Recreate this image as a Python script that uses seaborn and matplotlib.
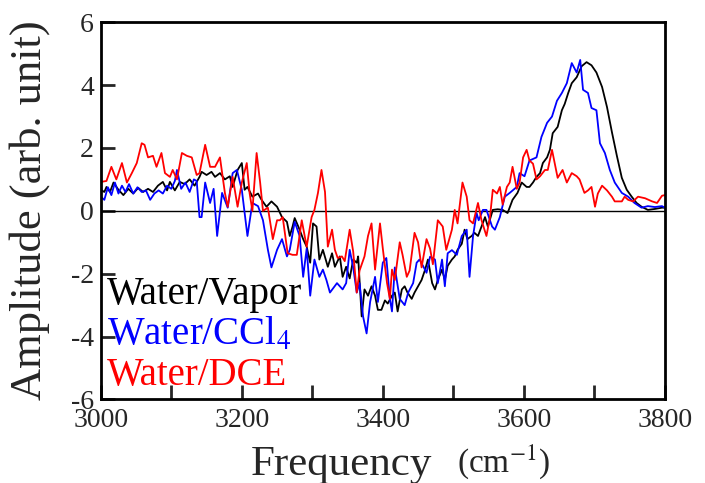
import matplotlib
matplotlib.use('Agg')
import matplotlib.pyplot as plt
from matplotlib.ticker import MultipleLocator
import seaborn as sns
import pandas as pd

# values (freq in cm-1, amplitude in arb. unit)
vapor_freq = [3000, 3005, 3008, 3013, 3018, 3025, 3032, 3039, 3046, 3053, 3060, 3067, 3074, 3081,
              3088, 3094, 3098, 3105, 3112, 3119, 3126, 3133, 3140, 3143, 3150, 3157, 3162, 3169,
              3176, 3183, 3187, 3194, 3200, 3204, 3208, 3215, 3223, 3228, 3235, 3242, 3250, 3257,
              3264, 3268, 3272, 3275, 3282, 3287, 3292, 3297, 3301, 3306, 3310, 3315, 3322, 3328,
              3332, 3339, 3343, 3348, 3353, 3358, 3363, 3365, 3370, 3374, 3379, 3384, 3389, 3393,
              3398, 3403, 3407, 3413, 3417, 3421, 3427, 3431, 3435, 3441, 3445, 3450, 3455, 3460,
              3464, 3470, 3474, 3478, 3484, 3488, 3492, 3498, 3502, 3506, 3512, 3516, 3520, 3526,
              3530, 3535, 3540, 3545, 3549, 3556, 3563, 3570, 3577, 3584, 3591, 3597, 3604, 3608,
              3613, 3618, 3623, 3627, 3633, 3637, 3641, 3648, 3654, 3658, 3663, 3668, 3675, 3682,
              3689, 3696, 3703, 3711, 3718, 3725, 3732, 3739, 3746, 3753, 3760, 3767, 3776, 3786,
              3796, 3800]
vapor_amp = [0.67, 0.6, 0.76, 0.6, 0.9, 0.67, 0.5, 0.7, 0.55, 0.73, 0.6, 0.7, 0.6, 0.8,
             0.92, 0.65, 0.92, 0.65, 0.92, 0.85, 1.0, 0.8, 1.08, 1.24, 1.14, 1.24, 1.08, 1.2,
             1.0, 1.1, 0.76, 1.3, 1.52, 0.67, 0.76, 0.45, 0.55, 0.35, 0.13, 0.3, 0.13, -0.2,
             -0.35, -0.8, -0.5, -0.23, -0.6, -0.9, -1.14, -1.65, -0.4, -0.5, -1.55, -1.24, -1.78, -1.35,
             -1.78, -1.45, -2.1, -1.78, -2.15, -1.55, -1.65, -1.45, -3.36, -2.5, -2.7, -2.4, -2.7, -3.15,
             -3.15, -2.85, -2.95, -2.7, -2.6, -3.2, -2.5, -2.4, -2.6, -2.8, -2.6, -2.4, -2.2, -1.87,
             -1.55, -2.3, -2.5, -2.2, -1.87, -2.2, -1.75, -1.55, -1.45, -1.24, -1.05, -0.6, -0.9, -0.8,
             -0.7, -0.8, -0.5, -0.2, -0.5, 0.03, 0.05, 0.03, -0.07, 0.35, 0.57, 0.9, 0.76, 0.76,
             0.9, 1.08, 1.2, 1.52, 1.7, 1.94, 2.47, 2.67, 3.2, 3.4, 3.75, 4.06, 4.25, 4.6,
             4.73, 4.63, 4.4, 3.94, 3.3, 2.5, 1.75, 1.05, 0.67, 0.45, 0.25, 0.13, 0.03, 0.06,
             0.1, 0.1]

ccl4_freq = [3000, 3005, 3010, 3015, 3020, 3025, 3030, 3035, 3040, 3046, 3052, 3058, 3064, 3070,
             3076, 3082, 3088, 3094, 3100, 3105, 3108, 3114, 3120, 3126, 3132, 3136, 3140, 3143,
             3148, 3155, 3160, 3165, 3172, 3180, 3187, 3193, 3200, 3208, 3215, 3223, 3230, 3237,
             3242, 3250, 3257, 3264, 3268, 3275, 3282, 3287, 3292, 3297, 3303, 3310, 3315, 3320,
             3325, 3335, 3343, 3348, 3353, 3358, 3363, 3367, 3372, 3377, 3382, 3389, 3393, 3400,
             3405, 3410, 3413, 3417, 3424, 3431, 3436, 3443, 3448, 3452, 3457, 3462, 3467, 3474,
             3478, 3484, 3488, 3492, 3498, 3505, 3512, 3519, 3523, 3528, 3533, 3536, 3542, 3547,
             3555, 3559, 3566, 3573, 3580, 3590, 3594, 3601, 3608, 3618, 3625, 3633, 3640, 3647,
             3654, 3661, 3668, 3675, 3680, 3684, 3691, 3696, 3703, 3708, 3715, 3722, 3729, 3739,
             3748, 3757, 3767, 3776, 3786, 3796, 3800]
ccl4_amp = [0.45, 0.35, 0.75, 0.5, 0.9, 0.55, 0.8, 0.6, 0.85, 0.55, 0.75, 0.6, 0.65, 0.35,
            0.55, 0.65, 0.55, 0.8, 0.7, 0.95, 1.3, 0.7, 0.9, 0.6, 1.0, 0.95, -0.2, -0.2,
            0.9, 0.25, 0.7, -0.8, 0.57, 0.1, 1.2, 1.3, 0.67, -0.8, 0.25, 0.15, -0.3, -1.24,
            -1.8, -1.24, -0.9, -1.45, -1.24, -0.35, -0.8, -2.1, -1.2, -2.7, -1.55, -2.1, -1.87, -2.2,
            -2.6, -2.3, -2.5, -2.3, -1.24, -1.8, -2.6, -2.3, -3.36, -3.9, -2.9, -2.1, -2.9, -1.65,
            -1.5, -2.8, -3.2, -1.8, -2.8, -3.0, -2.6, -2.3, -1.65, -1.55, -1.75, -1.97, -1.46, -1.55,
            -2.3, -1.55, -2.4, -1.35, -1.25, -1.4, -0.8, -0.6, -2.1, -0.8, -0.07, -0.3, 0.03, 0.03,
            -0.5, -0.6, -0.2, 0.45, 0.57, 0.76, 1.2, 1.1, 1.6, 1.7, 2.35, 2.8, 3.0, 3.5,
            3.75, 4.06, 4.7, 4.4, 4.8, 3.85, 3.75, 3.27, 3.2, 2.15, 1.84, 1.3, 0.9, 0.57,
            0.45, 0.25, 0.1, 0.15, 0.12, 0.15, 0.1]

dce_freq = [3000, 3008, 3015, 3022, 3030, 3037, 3044, 3051, 3058, 3062, 3067, 3074, 3079, 3086,
            3091, 3098, 3102, 3108, 3115, 3122, 3129, 3136, 3140, 3148, 3155, 3162, 3169, 3176,
            3180, 3187, 3194, 3200, 3207, 3211, 3215, 3221, 3226, 3230, 3237, 3244, 3250, 3254,
            3258, 3265, 3272, 3278, 3285, 3292, 3299, 3303, 3308, 3313, 3318, 3322, 3328, 3332,
            3336, 3342, 3346, 3353, 3358, 3363, 3367, 3374, 3379, 3384, 3389, 3396, 3400, 3406,
            3410, 3413, 3417, 3424, 3428, 3434, 3438, 3445, 3450, 3455, 3462, 3467, 3471, 3478,
            3485, 3490, 3498, 3502, 3506, 3513, 3519, 3523, 3528, 3535, 3540, 3547, 3552, 3556,
            3562, 3566, 3570, 3576, 3580, 3584, 3590, 3594, 3599, 3604, 3608, 3613, 3618, 3623,
            3630, 3634, 3640, 3644, 3648, 3655, 3661, 3668, 3675, 3679, 3686, 3691, 3696, 3701,
            3705, 3711, 3718, 3725, 3729, 3739, 3743, 3748, 3755, 3762, 3772, 3782, 3789, 3796,
            3800]
dce_amp = [0.92, 0.95, 1.4, 1.0, 1.52, 0.9, 1.2, 1.52, 2.15, 2.1, 1.7, 1.75, 1.4, 1.84,
           1.2, 1.08, 1.3, 1.0, 1.84, 1.75, 1.7, 1.14, 1.2, 2.1, 1.4, 1.4, 1.7, 0.57,
           0.13, 1.08, 0.13, 0.9, 1.52, 0.57, 0.0, 1.84, 0.9, 0.0, 0.1, -0.9, -0.3, -0.3,
           -0.2, -1.35, -1.4, -1.4, -0.3, -1.14, -0.2, 0.03, 0.57, 1.3, 0.6, -1.14, -0.6, -1.24,
           -1.5, -1.45, -1.6, -0.6, -1.3, -2.6, -1.9, -1.45, -0.8, -0.4, -1.87, -0.4, -1.2, -2.3,
           -2.8, -1.87, -2.2, -1.0, -1.4, -2.1, -1.9, -0.7, -1.0, -1.8, -0.9, -1.2, -1.7, -0.3,
           -0.5, -1.24, -0.6, 0.03, -0.4, 0.9, 0.45, -0.3, -0.4, 0.25, -0.3, -0.8, -0.2, 0.67,
           0.55, 0.76, 0.2, 0.76, 0.9, 1.4, 0.7, 0.9, 1.7, 1.94, 1.6, 1.5, 1.0, 1.1,
           1.3, 1.3, 1.94, 1.5, 1.05, 1.3, 0.9, 1.2, 1.1, 1.0, 0.57, 0.65, 0.76, 0.13,
           0.55, 0.8, 0.65, 0.45, 0.3, 0.3, 0.45, 0.35, 0.3, 0.45, 0.4, 0.3, 0.25, 0.48,
           0.5]

labels = ['Water/Vapor', 'Water/CCl$_4$', 'Water/DCE']
colors = ['black', 'blue', 'red']

df = pd.concat([
    pd.DataFrame({'freq': vapor_freq, 'amp': vapor_amp, 'sample': labels[0]}),
    pd.DataFrame({'freq': ccl4_freq, 'amp': ccl4_amp, 'sample': labels[1]}),
    pd.DataFrame({'freq': dce_freq, 'amp': dce_amp, 'sample': labels[2]}),
])

sns.set_style('white')
plt.rcParams['font.family'] = ['Liberation Serif', 'DejaVu Serif']
plt.rcParams['mathtext.fontset'] = 'stix'
plt.rcParams['axes.unicode_minus'] = False

fig = plt.figure(figsize=(7.05, 4.83), dpi=100)
ax = fig.add_axes([0.143, 0.173, 0.800, 0.781])

ax.axhline(0, color='black', lw=1.0, zorder=1)
sns.lineplot(data=df, x='freq', y='amp', hue='sample', palette=colors,
             estimator=None, lw=1.3, ax=ax, zorder=2)

ax.set_xlim(3000, 3800)
ax.set_ylim(-6, 6)
ax.xaxis.set_major_locator(MultipleLocator(200))
ax.xaxis.set_minor_locator(MultipleLocator(100))
ax.yaxis.set_major_locator(MultipleLocator(2))
ax.tick_params(axis='both', which='both', direction='in', length=10, width=2,
               labelsize=20, top=False, right=False, bottom=True, left=True)
ax.tick_params(axis='x', pad=6)
ax.tick_params(axis='y', pad=5)
for sp in ax.spines.values():
    sp.set_linewidth(2)
    sp.set_color('black')

ax.set_xlabel('')
ax.set_ylabel('')
fig.text(0.355, 0.037, 'Frequency', fontsize=31, ha='left', va='center')
fig.text(0.648, 0.045, '(cm$^{-1}$)', fontsize=24, ha='left', va='center')
fig.text(0.042, 0.565, 'Amplitude (arb. unit)', fontsize=32, rotation=90,
         ha='center', va='center')

leg = ax.legend(loc='lower left', frameon=False, handlelength=0, handletextpad=0,
                labelcolor='linecolor', fontsize=28, labelspacing=0.08,
                borderaxespad=0.0, borderpad=0.15)
for h in leg.legend_handles:
    h.set_visible(False)

fig.savefig('out.png', dpi=100, facecolor='white')
